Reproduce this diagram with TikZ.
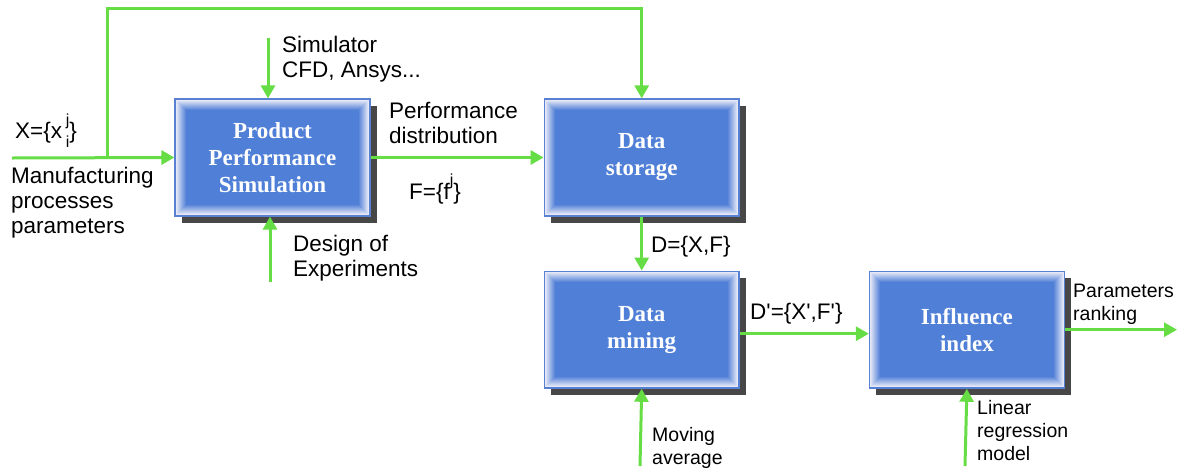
\documentclass[tikz,border=0pt]{standalone}
\usepackage{fontspec}
\setmainfont{Liberation Sans}
\newfontfamily\boxfont{Liberation Serif}
\usetikzlibrary{arrows.meta,positioning,shadows}
\definecolor{boxblue}{HTML}{4F7FD6}
\definecolor{boxedge}{HTML}{5A80D2}
\definecolor{framelight}{HTML}{E6E8F7}
\definecolor{flowgreen}{HTML}{66DD44}
\tikzset{
  procbox/.style={draw=boxedge, line width=1.2pt, fill=boxblue, minimum width=195pt, minimum height=117pt, align=center, text=white, font=\boxfont\bfseries\fontsize{23}{27}\selectfont, drop shadow={shadow xshift=7pt, shadow yshift=-7pt, fill=black, opacity=0.72}},
  flow/.style={-{Triangle[length=13pt,width=14pt]}, draw=flowgreen, line width=3pt},
  lbl/.style={align=left, inner sep=0pt, font=\fontsize{22.5}{25}\selectfont}
}
\newcommand\idx[2]{\raisebox{#1}{\fontsize{16}{16}\selectfont #2}}
\begin{document}
\begin{tikzpicture}[x=1pt, y=-1pt]
\useasboundingbox (0,0) rectangle (1180,472);
% process boxes
\node[procbox] (sim) at (272.5,157.5) {Product\\Performance\\Simulation};
\node[procbox, right=173pt of sim] (store) {Data\\storage};
\node[procbox, below=54pt of store] (mine) {Data\\mining};
\node[procbox, right=129pt of mine] (infl) {Influence\\index};
% bevelled frame
\foreach \b in {sim,store,mine,infl}{
  \foreach \k in {0,...,10}{
    \pgfmathsetmacro\t{\k*10}
    \draw[draw=boxblue!\t!framelight, line width=1.1pt]
      ([shift={(\k pt+2pt,-\k pt-2pt)}]\b.north west) rectangle ([shift={(-\k pt-2pt,\k pt+2pt)}]\b.south east);
  }
}
% free ends
\coordinate (in) at (12,158);
\coordinate (split) at (107,158);
\coordinate (top) at (107,8);
\coordinate (simsrc) at (268,38);
\coordinate (doesrc) at (270,282);
\coordinate (out) at ([xshift=112pt]infl.east);
\coordinate (mavg) at (640,466);
\coordinate (linreg) at (965,466);
% connectors
\draw[flow] (in) -- (sim.west);
\draw[flow] (split) -- (top) -| (store.north);
\draw[flow] (simsrc) -- (simsrc |- sim.north);
\draw[flow] (doesrc) -- (doesrc |- sim.south);
\draw[flow] (sim) -- (store);
\draw[flow] (store) -- (mine);
\draw[flow] ([yshift=-4pt]mine.east) -- ([yshift=-4pt]infl.west);
\draw[flow] (infl.east) -- (out);
\draw[flow] (mavg) -- (mine.south);
\draw[flow] (linreg) -- (infl.south);
% labels
\node[lbl, anchor=base west] (xset) at (15,138) {X=\{x\rlap{\,\idx{13pt}{j}}\,\idx{-9pt}{i}\}};
\node[lbl, anchor=north west] (manuf) at (11,167) {Manufacturing\\processes\\parameters};
\node[lbl, anchor=north west] (simtool) at (282,36) {Simulator\\CFD, Ansys...};
\node[lbl, anchor=north west] (doe) at (293,235) {Design of\\Experiments};
\node[lbl, anchor=north west] (perf) at (389,102) {Performance\\distribution};
\node[lbl, anchor=base west] (fset) at (409,199) {F=\{f\idx{14pt}{j}\}};
\node[lbl, anchor=base west] (dset) at (651,252) {D=\{X,F\}};
\node[lbl, anchor=base west] (dprime) at (750,319) {D\textquotesingle=\{X\textquotesingle,F\textquotesingle\}};
\node[lbl, anchor=north west, font=\fontsize{19.5}{23}\selectfont] (rank) at (1073,284) {Parameters\\ranking};
\node[lbl, anchor=north west, font=\fontsize{19.5}{23}\selectfont] (mavgtxt) at (652,427) {Moving\\average};
\node[lbl, anchor=north west, font=\fontsize{19.5}{23}\selectfont] (lintxt) at (977,400) {Linear\\regression\\model};
\end{tikzpicture}
\end{document}
